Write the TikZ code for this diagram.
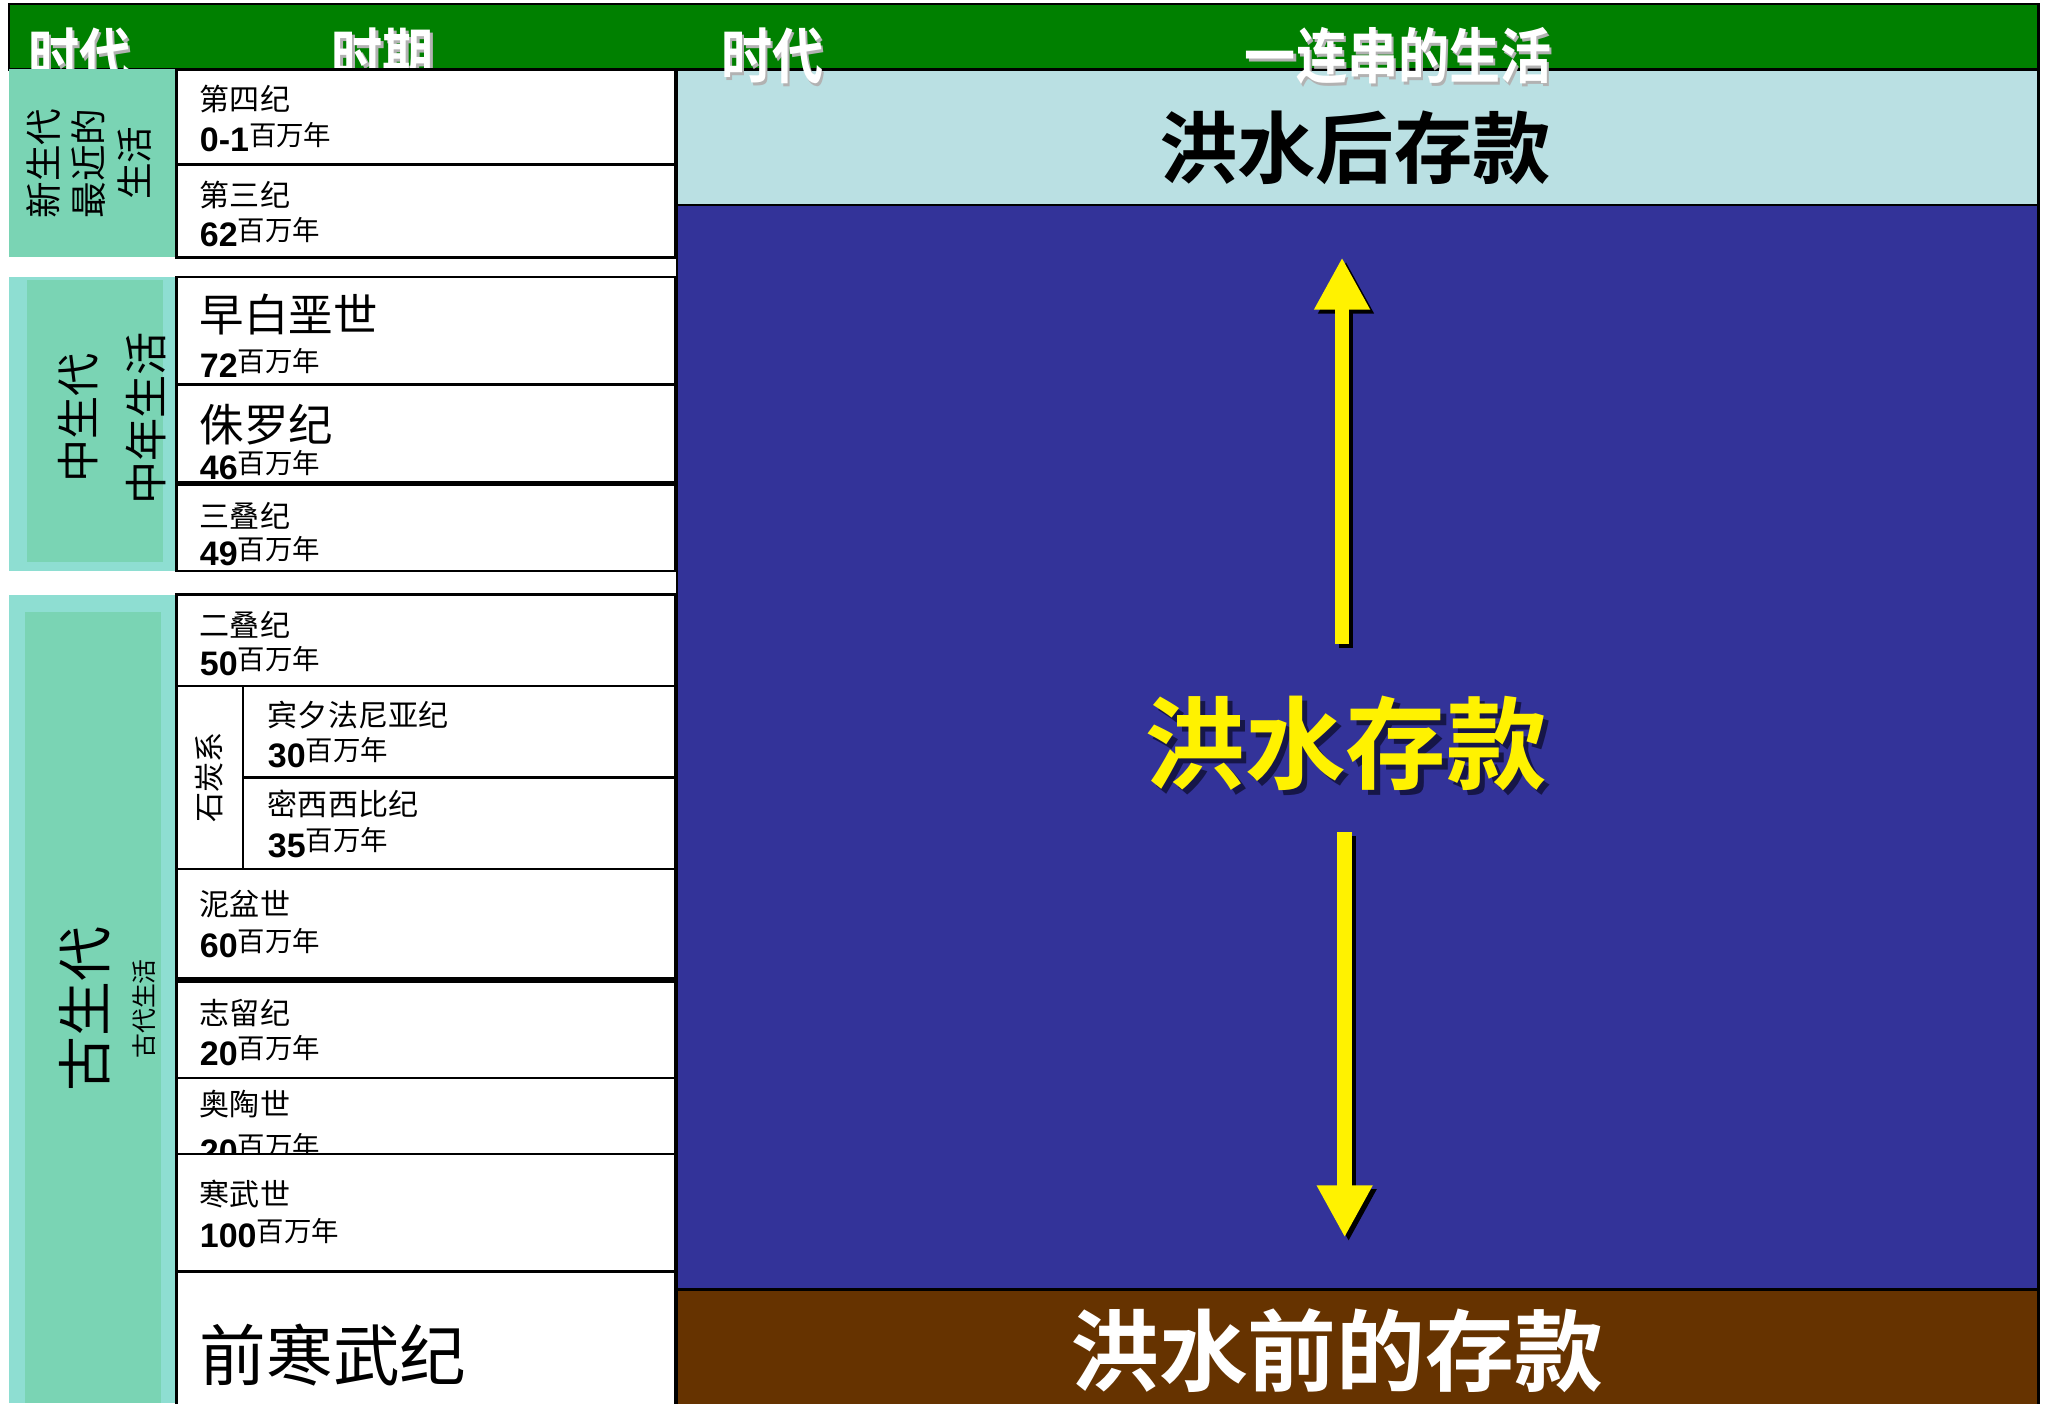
\documentclass[tikz,border=0pt]{standalone}
\usepackage{fontspec}
\setmainfont{Noto Sans CJK SC}[BoldFont={Noto Sans CJK SC Bold}]
\newfontfamily\numfont{Liberation Sans}
\usetikzlibrary{arrows.meta}

\definecolor{hdrgreen}{RGB}{0,128,0}
\definecolor{aftblue}{RGB}{186,224,227}
\definecolor{floodblue}{RGB}{51,51,153}
\definecolor{prebrown}{RGB}{102,51,0}
\definecolor{eramint}{RGB}{122,212,180}
\definecolor{eraedge}{RGB}{142,222,210}
\definecolor{shade}{RGB}{22,22,72}

\newcommand{\setfs}[1]{\fontsize{#1}{#1}\selectfont}
\newcommand{\myr}[1]{{\numfont\bfseries\setfs{26}#1}\raisebox{5pt}{\setfs{21}百万年}}
\newcommand{\shadowed}[3]{\rlap{\kern#2\raisebox{-#2}{\textcolor{#1}{#3}}}#3}

\begin{document}
\begin{tikzpicture}[x=1pt, y=-1pt, line width=2pt,
  periodbox/.style={draw=black, fill=white, line width=2pt},
  pname/.style={anchor=west, inner sep=0pt, font=\setfs{23}},
  pnum/.style={anchor=base west, inner sep=0pt},
  hdr/.style={inner sep=0pt, xscale=0.85, text=white, font=\bfseries\setfs{46}},
  floodarrow/.style={line width=11pt, -{Triangle[width=40pt,length=40pt]}}]
  \useasboundingbox (0,0) rectangle (1568,1074);

  % header and right bands
  \draw[fill=hdrgreen] (7,3) rectangle (1560,53);
  \draw[fill=aftblue] (518,53) rectangle (1560,157);
  \draw[fill=floodblue] (518,157) rectangle (1560,987);
  \draw[fill=prebrown] (518,987) rectangle (1560,1080);

  \foreach \x/\t/\n in {61/时代/hEraA, 293/时期/hPer, 591/时代/hEraB, 1070/一连串的生活/hLife}
    \node[hdr] (\n) at (\x,44) {\shadowed{gray!60}{2pt}{\t}};

  \node[font=\bfseries\setfs{60}, inner sep=0pt] (after) at (1037,113) {洪水后存款};
  \node[font=\bfseries\setfs{77}, text=yellow, inner sep=0pt] (flood) at (1030,571) {\shadowed{shade}{4pt}{洪水存款}};
  \node[font=\bfseries\setfs{68}, text=white, inner sep=0pt] (before) at (1023,1034) {洪水前的存款};

  % arrows
  \coordinate (upA) at (1027,493);
  \coordinate (upB) at (1027,197);
  \coordinate (dnA) at (1029,637);
  \coordinate (dnB) at (1029,947);
  \begin{scope}[transform canvas={shift={(3pt,-3pt)}}]
    \draw[floodarrow, shade] (upA) -- (upB);
    \draw[floodarrow, shade] (dnA) -- (dnB);
  \end{scope}
  \draw[floodarrow, yellow] (upA) -- (upB);
  \draw[floodarrow, yellow] (dnA) -- (dnB);

  % eras
  \fill[eramint] (7,53) rectangle (135,197);
  \fill[eraedge] (7,212) rectangle (135,437);
  \fill[eramint] (21,214) rectangle (125,430);
  \fill[eraedge] (7,455) rectangle (135,1074);
  \fill[eramint] (19,468) rectangle (123,1074);
  \fill[white] (9,197) rectangle (517,212);
  \fill[white] (9,437) rectangle (517,455);

  \node[rotate=90, align=center, inner sep=0pt, font=\fontsize{28}{35}\selectfont] (ceno) at (68,125) {新生代\\最近的\\生活};
  \node[rotate=90, align=center, inner sep=0pt, font=\fontsize{33}{52}\selectfont] (meso) at (86,320) {中生代\\中年生活};
  \node[rotate=90, inner sep=0pt, font=\setfs{42}] (paleo) at (65,772) {古生代};
  \node[rotate=90, inner sep=0pt, font=\setfs{19}] (paleol) at (110,772) {古代生活};

  % periods
  \foreach \t/\b/\s/\nm/\ny/\nu/\nb [count=\i] in {
    53/126/23/第四纪/76/0-1/116,
    126/197/23/第三纪/149/62/189,
    212/294/34/早白垩世/241/72/289,
    294/370/34/侏罗纪/325/46/367,
    370/437/23/三叠纪/395/49/433,
    455/525/23/二叠纪/478/50/517,
    665/750/23/泥盆世/692/60/733,
    750/825/23/志留纪/775/20/815,
    825/883/23/奥陶世/845/20/890,
    883/973/23/寒武世/914/100/955} {
    \draw[periodbox] (135,\t) rectangle (517,\b);
    \node[pname, font=\setfs{\s}] (pn\i) at (152,\ny) {\nm};
    \node[pnum] (pv\i) at (152,\nb) {\myr{\nu}};
  }
  \draw[line width=4pt] (135,370) -- (517,370);
  \draw[line width=4pt] (135,750) -- (517,750);

  % carboniferous
  \draw[periodbox] (135,525) rectangle (186,665);
  \node[rotate=90, inner sep=0pt, font=\setfs{23}] (carb) at (160,595) {石炭系};
  \draw[periodbox] (186,525) rectangle (517,595);
  \node[pname] (penn) at (204,547) {宾夕法尼亚纪};
  \node[pnum] (pennv) at (204,587) {\myr{30}};
  \draw[periodbox] (186,595) rectangle (517,665);
  \node[pname] (miss) at (204,615) {密西西比纪};
  \node[pnum] (missv) at (204,656) {\myr{35}};

  \draw[periodbox] (135,973) rectangle (517,1080);
  \node[anchor=west, inner sep=0pt, font=\setfs{51}] (precam) at (152,1037) {前寒武纪};
\end{tikzpicture}
\end{document}
